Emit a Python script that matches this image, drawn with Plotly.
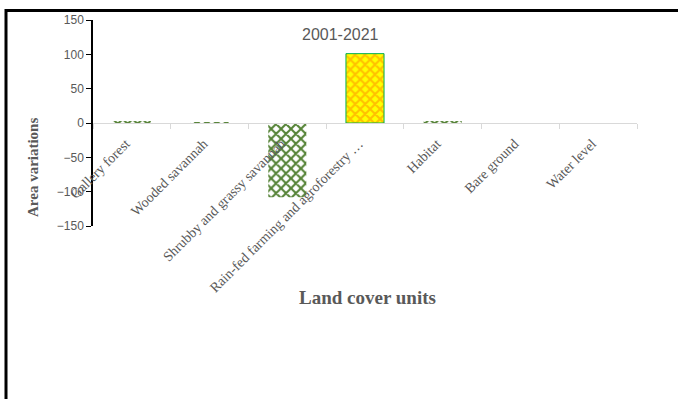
import plotly.graph_objects as go

# Land cover change between 2001 and 2021
categories = [
    "Gallery forest",
    "Wooded savannah",
    "Shrubby and grassy savannah",
    "Rain-fed farming and agroforestry …",
    "Habitat",
    "Bare ground",
    "Water level",
]
area_change = [1.5, 1.2, -108, 101, 1.5, 0, 0]
y_ticks = [-150, -100, -50, 0, 50, 100, 150]

W, H = 678, 399
ML, MR, MT, MB = 93, 41, 20, 173
PW, PH = W - ML - MR, H - MT - MB


def px_x(px):
    return (px - ML) / PW


def px_y(py):
    return (H - MB - py) / PH


GREY = "#595959"
GREEN = "#548235"

# farming gains get the yellow/orange fill, all other units green on white
is_gain = [v >= 50 for v in area_change]
green_vals = [None if g else v for v, g in zip(area_change, is_gain)]
gain_vals = [v if g else None for v, g in zip(area_change, is_gain)]

fig = go.Figure()
fig.add_trace(
    go.Bar(
        x=categories,
        y=green_vals,
        marker=dict(
            color="white",
            line=dict(width=0),
            pattern=dict(shape="x", fgcolor=GREEN, bgcolor="white",
                         fgopacity=1, size=7, solidity=0.5, fillmode="replace"),
        ),
        showlegend=False,
    )
)
fig.add_trace(
    go.Bar(
        x=categories,
        y=gain_vals,
        marker=dict(
            color="#FFFF00",
            line=dict(color="#00B050", width=1),
            pattern=dict(shape="x", fgcolor="#FFC000", bgcolor="#FFFF00",
                         fgopacity=1, size=7, solidity=0.5, fillmode="replace"),
        ),
        showlegend=False,
    )
)

fig.update_layout(
    width=W,
    height=H,
    margin=dict(l=ML, r=MR, t=MT, b=MB, autoexpand=False),
    paper_bgcolor="white",
    plot_bgcolor="white",
    barmode="overlay",
    bargap=0.51,
    xaxis=dict(
        type="category",
        categoryorder="array",
        categoryarray=categories,
        anchor="free",
        position=0.5,
        showline=True,
        linecolor="#D9D9D9",
        linewidth=1,
        ticks="outside",
        tickson="boundaries",
        ticklen=5,
        tickcolor="#D9D9D9",
        tickangle=-45,
        ticklabelstandoff=6,
        ticklabelshift=-6,
        tickfont=dict(family="Liberation Serif, Times New Roman, serif", size=14, color=GREY),
        showgrid=False,
        zeroline=False,
        automargin=False,
    ),
    yaxis=dict(
        range=[-150, 150],
        tickvals=y_ticks,
        showline=True,
        linecolor="black",
        linewidth=1.5,
        ticks="outside",
        ticklen=5,
        tickcolor="black",
        tickfont=dict(family="Liberation Sans, Arial, sans-serif", size=12, color=GREY),
        showgrid=False,
        zeroline=False,
        automargin=False,
    ),
    annotations=[
        dict(
            text="2001-2021",
            x=px_x(340), y=px_y(35),
            xanchor="center", yanchor="middle",
            xref="paper", yref="paper",
            showarrow=False,
            font=dict(family="Liberation Sans, Arial, sans-serif", size=16, color=GREY),
        ),
        dict(
            text="<b>Land cover units</b>",
            x=px_x(367), y=px_y(297),
            xanchor="center", yanchor="middle",
            xref="paper", yref="paper",
            showarrow=False,
            font=dict(family="Liberation Serif, Times New Roman, serif", size=19, color=GREY),
        ),
        dict(
            text="<b>Area variations</b>",
            x=px_x(33), y=px_y(168),
            xanchor="center", yanchor="middle",
            xref="paper", yref="paper",
            textangle=-90,
            showarrow=False,
            font=dict(family="Liberation Serif, Times New Roman, serif", size=15, color=GREY),
        ),
    ],
    shapes=[
        dict(type="line", xref="paper", yref="paper",
             x0=px_x(5), x1=px_x(W + 2), y0=px_y(10.5), y1=px_y(10.5),
             line=dict(color="black", width=3)),
        dict(type="line", xref="paper", yref="paper",
             x0=px_x(6), x1=px_x(6), y0=px_y(9), y1=px_y(H + 2),
             line=dict(color="black", width=3)),
    ],
)

fig.write_html("out.html")
